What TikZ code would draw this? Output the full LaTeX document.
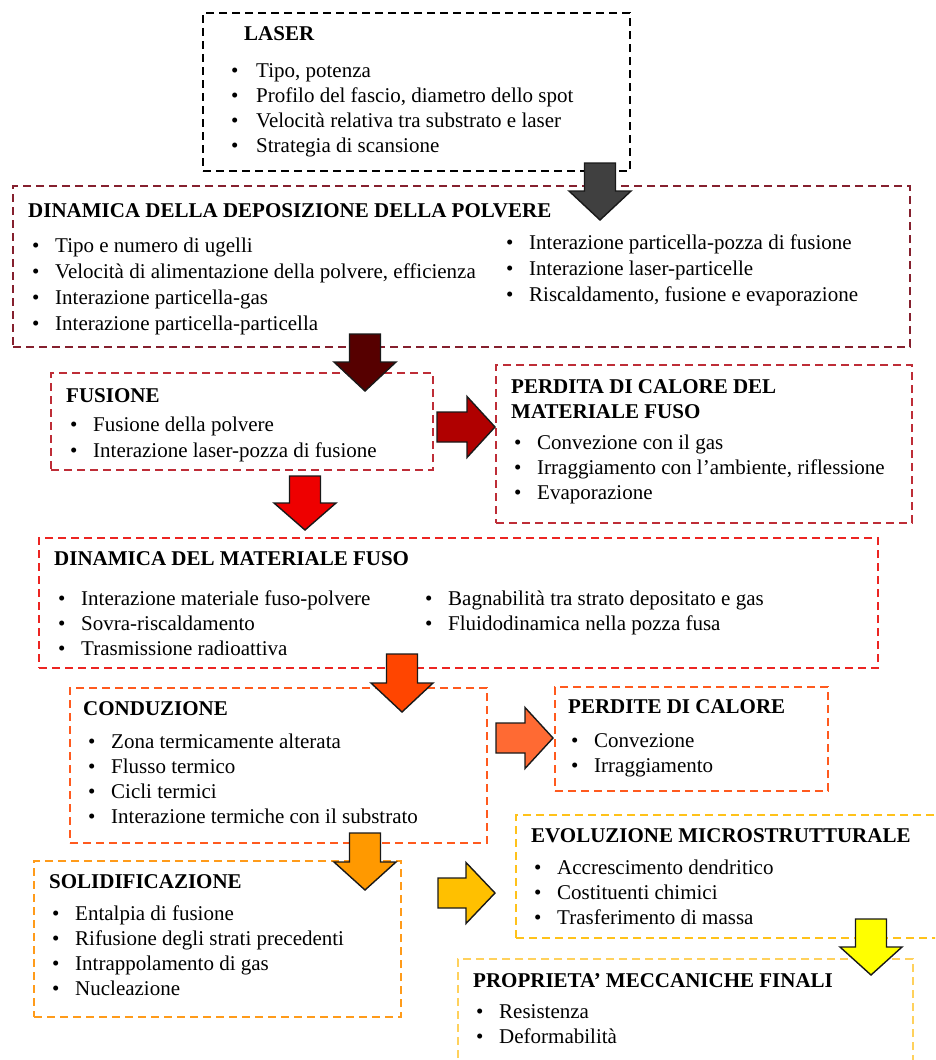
\documentclass[tikz,border=0pt]{standalone}
\usepackage{fontspec}
\setmainfont{Liberation Serif}

% frame colours
\definecolor{cLaser}{HTML}{000000}
\definecolor{cDepo}{HTML}{85202E}
\definecolor{cFus}{HTML}{BE2D37}
\definecolor{cDin}{HTML}{EC2522}
\definecolor{cCond}{HTML}{FF5A1E}
\definecolor{cSol}{HTML}{FF9B1A}
\definecolor{cEvo}{HTML}{FFC21A}
\definecolor{cProp}{HTML}{FFD15C}
% arrow fills
\definecolor{aOne}{HTML}{404040}
\definecolor{aTwo}{HTML}{560000}
\definecolor{aThree}{HTML}{B00000}
\definecolor{aFour}{HTML}{EE0000}
\definecolor{aFive}{HTML}{FF4500}
\definecolor{aSix}{HTML}{FF6A33}
\definecolor{aSeven}{HTML}{FF9900}
\definecolor{aEight}{HTML}{FFC000}
\definecolor{aNine}{HTML}{FFFF00}

% bullet with fixed advance
\newcommand{\bul}{\makebox[23pt][l]{\textbullet}}
% list of lines, baseline on the first line
\newcommand{\Lst}[1]{\begin{tabular}[t]{@{}l@{}}#1\end{tabular}}

% block arrow pointing down: fill, centre x, top, head base, tip
\newcommand{\DownBlock}[5]{%
  \draw[blockarrow=#1] (#2-15.5,#3) -- (#2+15.5,#3) -- (#2+15.5,#4) -- (#2+31,#4)
    -- (#2,#5) -- (#2-31,#4) -- (#2-15.5,#4) -- cycle;}
% block arrow pointing right: fill, centre y, left, head base, tip
\newcommand{\RightBlock}[5]{%
  \draw[blockarrow=#1] (#3,#2-15) -- (#4,#2-15) -- (#4,#2-30.5) -- (#5,#2)
    -- (#4,#2+30.5) -- (#4,#2+15) -- (#3,#2+15) -- cycle;}

\begin{document}
\begin{tikzpicture}[x=1pt,y=-1pt,
  frame/.style={draw=#1, dash pattern=on 8pt off 5pt, line width=1.4pt,
    anchor=north west, inner sep=0pt, outer sep=0pt},
  title/.style={anchor=base west, inner sep=0pt, font=\fontsize{21}{25}\selectfont\bfseries},
  items/.style={anchor=base west, inner sep=0pt, font=\fontsize{21}{25.3}\selectfont},
  wideitems/.style={items, font=\fontsize{21}{26}\selectfont},
  blockarrow/.style={draw=black!90, line width=1.4pt, line join=miter, fill=#1},
]
\clip (0,0) rectangle (935,1060);
\fill[white] (0,0) rectangle (935,1060);

% ---- frames ----
\node[frame=cLaser, minimum width=427pt, minimum height=158pt] (laser) at (203,13) {};
\node[frame=cDepo, minimum width=897pt, minimum height=161pt] (depo) at (13,186) {};
\node[frame=cFus, minimum width=382pt, minimum height=97pt] (fus) at (51,373) {};
\node[frame=cFus, minimum width=416pt, minimum height=158pt] (calore) at (496,365) {};
\node[frame=cDin, minimum width=839pt, minimum height=130pt] (dinfuso) at (39,538) {};
\node[frame=cCond, minimum width=417pt, minimum height=155pt] (cond) at (70,688) {};
\node[frame=cCond, minimum width=273pt, minimum height=104pt] (perdite) at (555,687) {};
\node[frame=cSol, minimum width=367pt, minimum height=156pt] (solid) at (34,861) {};
\node[frame=cEvo, minimum width=440pt, minimum height=123pt] (evo) at (516,815) {};
\node[frame=cProp, minimum width=455pt, minimum height=130pt] (prop) at (458,959) {};

% ---- block arrows ----
\DownBlock{aOne}{600}{163}{191}{220}
\DownBlock{aTwo}{365}{334}{362}{391}
\RightBlock{aThree}{427}{437}{467}{495}
\DownBlock{aFour}{305}{476}{503}{530}
\DownBlock{aFive}{402}{654}{683}{712}
\RightBlock{aSix}{738}{496}{525}{553}
\DownBlock{aSeven}{365}{833}{862}{890}
\RightBlock{aEight}{893}{438}{466}{495}
\DownBlock{aNine}{871}{919}{947}{975}

% ---- texts ----
\node[title] (laser-t) at (244,40) {LASER};
\node[items] (laser-l) at (231,77) {\Lst{%
  \makebox[25pt][l]{\textbullet}Tipo, potenza\\
  \makebox[25pt][l]{\textbullet}Profilo del fascio, diametro dello spot\\
  \makebox[25pt][l]{\textbullet}Velocità relativa tra substrato e laser\\
  \makebox[25pt][l]{\textbullet}Strategia di scansione}};

\node[title] (depo-t) at (28,217) {DINAMICA DELLA DEPOSIZIONE DELLA POLVERE};
\node[wideitems] (depo-l) at (32,252) {\Lst{%
  \bul Tipo e numero di ugelli\\
  \bul Velocità di alimentazione della polvere, efficienza\\
  \bul Interazione particella-gas\\
  \bul Interazione particella-particella}};
\node[wideitems] (depo-r) at (506,249) {\Lst{%
  \bul Interazione particella-pozza di fusione\\
  \bul Interazione laser-particelle\\
  \bul Riscaldamento, fusione e evaporazione}};

\node[title] (fus-t) at (66,402) {FUSIONE};
\node[wideitems] (fus-l) at (70,431) {\Lst{%
  \bul Fusione della polvere\\
  \bul Interazione laser-pozza di fusione}};

\node[title] (calore-t) at (511,393) {\Lst{PERDITA DI CALORE DEL\\ MATERIALE FUSO}};
\node[items] (calore-l) at (514,449) {\Lst{%
  \bul Convezione con il gas\\
  \bul Irraggiamento con l’ambiente, riflessione\\
  \bul Evaporazione}};

\node[title] (dinfuso-t) at (54,565) {DINAMICA DEL MATERIALE FUSO};
\node[items] (dinfuso-l) at (58,605) {\Lst{%
  \bul Interazione materiale fuso-polvere\\
  \bul Sovra-riscaldamento\\
  \bul Trasmissione radioattiva}};
\node[items] (dinfuso-r) at (425,605) {\Lst{%
  \bul Bagnabilità tra strato depositato e gas\\
  \bul Fluidodinamica nella pozza fusa}};

\node[title] (cond-t) at (83,715) {CONDUZIONE};
\node[items] (cond-l) at (88,748) {\Lst{%
  \bul Zona termicamente alterata\\
  \bul Flusso termico\\
  \bul Cicli termici\\
  \bul Interazione termiche con il substrato}};

\node[title] (perdite-t) at (568,713) {PERDITE DI CALORE};
\node[items] (perdite-l) at (571,747) {\Lst{%
  \bul Convezione\\
  \bul Irraggiamento}};

\node[title] (solid-t) at (49,888) {SOLIDIFICAZIONE};
\node[items] (solid-l) at (52,920) {\Lst{%
  \bul Entalpia di fusione\\
  \bul Rifusione degli strati precedenti\\
  \bul Intrappolamento di gas\\
  \bul Nucleazione}};

\node[title] (evo-t) at (531,842) {EVOLUZIONE MICROSTRUTTURALE};
\node[items] (evo-l) at (534,874) {\Lst{%
  \bul Accrescimento dendritico\\
  \bul Costituenti chimici\\
  \bul Trasferimento di massa}};

\node[title] (prop-t) at (473,987) {PROPRIETA’ MECCANICHE FINALI};
\node[items] (prop-l) at (476,1018) {\Lst{%
  \bul Resistenza\\
  \bul Deformabilità}};
\end{tikzpicture}
\end{document}
